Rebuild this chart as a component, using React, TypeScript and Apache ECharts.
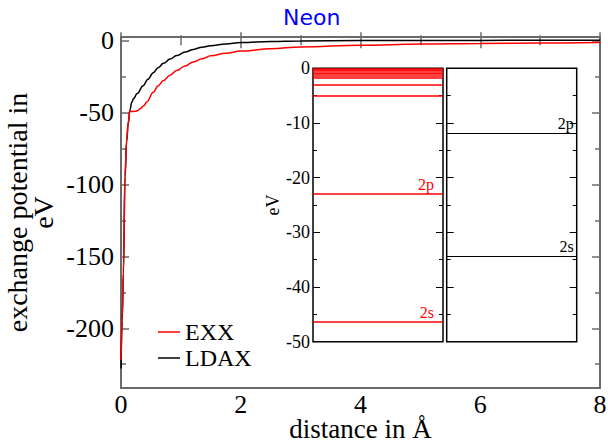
import React, { useEffect, useRef } from "react";
import * as echarts from "echarts";

// Main curves: [distance (Å), exchange potential (eV)]
const exxCurve: [number, number][] = [
  [0, -222], [0.02, -192], [0.04, -160], [0.067, -93], [0.095, -69], [0.12, -57],
  [0.15, -49], [0.19, -49.5], [0.23, -49.3], [0.28, -48.8], [0.32, -47.5],
  [0.38, -45.5], [0.43, -42.8], [0.54, -36], [0.62, -31.5], [0.71, -28], [0.82, -24.2],
  [0.93, -21], [1.07, -17.8], [1.21, -15], [1.35, -12.8], [1.5, -10.8], [1.75, -9],
  [2, -7.5], [2.5, -5.8], [3, -4.6], [4, -3.4], [5, -2.6], [6, -2.2], [7, -1.9], [8, -1.6],
];
const ldaxCurve: [number, number][] = [
  [0, -228], [0.02, -195], [0.04, -162], [0.067, -95], [0.095, -70], [0.12, -58],
  [0.15, -48], [0.18, -43], [0.21, -40.5], [0.27, -37], [0.37, -31.5], [0.45, -27],
  [0.54, -22.5], [0.62, -19], [0.71, -16], [0.82, -13], [0.93, -10.6], [1.07, -8.2],
  [1.21, -6.3], [1.35, -4.8], [1.5, -3.7], [1.75, -2.5], [2, -1.6], [2.5, -0.9],
  [3, -0.5], [4, -0.2], [5, -0.1], [6, -0.05], [7, -0.02], [8, -0.01],
];

// Inset energy levels (eV)
const exxLevels = [-46.4, -23.0, -5.08, -2.95, -1.8, -1.3, -1.0, -0.75, -0.5, -0.3, -0.12];
const exxLevelNames = ["2s", "2p", "", "", "", "", "", "", "", "", ""];
const ldaxLevels = [-34.4, -11.9];
const ldaxLevelNames = ["2s", "2p"];

const mainYLabels = [-200, -150, -100, -50, 0];
const mainYMinor = [-225, -175, -125, -75, -25];

const SERIF = "Liberation Serif";
const GRAY = "#6a6a6a";

export default function App() {
  const ref = useRef<HTMLDivElement>(null);
  useEffect(() => {
    const chart = echarts.init(ref.current!, null, { renderer: "svg" });
    const yMin = -241.5;
    const yMax = 2.3;
    const mainTickY = (pos: "left" | "right", values: number[], len: number, labels: boolean) => ({
      type: "value",
      gridIndex: 0,
      position: pos,
      min: yMin,
      max: yMax,
      axisLine: { show: false },
      splitLine: { show: false },
      axisTick: { show: true, inside: true, length: len, customValues: values, lineStyle: { color: GRAY, width: 1.5 } },
      axisLabel: labels
        ? { show: true, customValues: values, fontFamily: SERIF, fontSize: 26, color: "#000", margin: 7 }
        : { show: false },
    });
    const insetY = (grid: number, pos: "left" | "right", labels: boolean, name?: string) => ({
      type: "value",
      gridIndex: grid,
      position: pos,
      min: -50,
      max: 0,
      interval: 10,
      name: name,
      nameLocation: "middle",
      nameGap: 31,
      nameTextStyle: { fontFamily: SERIF, fontSize: 18, color: "#000" },
      axisLine: { show: false },
      splitLine: { show: false },
      axisTick: { show: true, inside: true, length: 7, lineStyle: { color: "#000", width: 1 } },
      minorTick: { show: true, splitNumber: 2, length: 4, lineStyle: { color: "#000", width: 1 } },
      axisLabel: labels
        ? { show: true, fontFamily: SERIF, fontSize: 18, color: "#000", margin: 3 }
        : { show: false },
    });
    const levelLines = (vals: number[], names: string[], color: string, pad: number) =>
      vals.map((v, i) => ({
        yAxis: v,
        name: names[i],
        label: names[i]
          ? {
              show: true,
              formatter: "{b}",
              position: "insideEndTop",
              distance: 2,
              padding: [0, pad, 0, 0],
              fontFamily: SERIF,
              fontSize: 16,
              color: color,
            }
          : { show: false },
      }));

    chart.setOption({
      animation: false,
      title: {
        text: "Neon",
        left: 283,
        top: 6,
        padding: 0,
        textStyle: { fontFamily: "DejaVu Sans", fontSize: 22, fontWeight: "normal", color: "#0000ff" },
      },
      legend: {
        data: ["EXX", "LDAX"],
        orient: "vertical",
        left: 153,
        top: 315,
        itemWidth: 22,
        itemHeight: 1.5,
        itemGap: 2,
        icon: "rect",
        textStyle: { fontFamily: SERIF, fontSize: 24, color: "#000", lineHeight: 20 },
      },
      grid: [
        { left: 121, top: 37, width: 479, height: 351, outerBoundsMode: "none", containLabel: false, show: true, borderColor: GRAY, borderWidth: 2, backgroundColor: "transparent" },
        { left: 313, top: 68.3, width: 130, height: 273.4, outerBoundsMode: "none", containLabel: false, show: true, borderColor: "#000", borderWidth: 1.5, backgroundColor: "#fff" },
        { left: 446.7, top: 68.3, width: 130, height: 273.4, outerBoundsMode: "none", containLabel: false, show: true, borderColor: "#000", borderWidth: 1.5, backgroundColor: "#fff" },
      ],
      xAxis: [
        {
          type: "value", gridIndex: 0, position: "bottom", min: 0, max: 8, interval: 2,
          name: "distance in Å", nameLocation: "middle", nameGap: 29, nameMoveOverlap: false,
          nameTextStyle: { fontFamily: SERIF, fontSize: 27, color: "#000", lineHeight: 24 },
          axisLine: { show: false }, splitLine: { show: false },
          axisTick: { show: true, inside: true, length: 8, lineStyle: { color: GRAY, width: 1.5 } },
          minorTick: { show: true, splitNumber: 2, length: 5, lineStyle: { color: GRAY, width: 1.5 } },
          axisLabel: { fontFamily: SERIF, fontSize: 26, color: "#000", margin: 5, lineHeight: 22 },
        },
        {
          type: "value", gridIndex: 0, position: "top", min: 0, max: 8, interval: 2,
          axisLine: { show: false }, splitLine: { show: false },
          axisTick: { show: true, inside: true, length: 8, lineStyle: { color: GRAY, width: 1.5 } },
          minorTick: { show: true, splitNumber: 2, length: 5, lineStyle: { color: GRAY, width: 1.5 } },
          axisLabel: { show: false },
        },
        { type: "value", gridIndex: 1, min: 0, max: 1, show: false },
        { type: "value", gridIndex: 2, min: 0, max: 1, show: false },
      ],
      yAxis: [
        {
          ...mainTickY("left", mainYLabels, 8, true),
          name: "exchange potential in\neV",
          nameLocation: "middle",
          nameGap: 65,
          nameMoveOverlap: false,
          nameTextStyle: { fontFamily: SERIF, fontSize: 28, color: "#000", lineHeight: 26 },
        },
        mainTickY("left", mainYMinor, 5, false),
        mainTickY("right", mainYLabels, 8, false),
        mainTickY("right", mainYMinor, 5, false),
        insetY(1, "left", true, "eV"),
        insetY(1, "right", false),
        insetY(2, "left", false),
        insetY(2, "right", false),
      ],
      series: [
        {
          name: "EXX", type: "line", xAxisIndex: 0, yAxisIndex: 0, data: exxCurve,
          showSymbol: false, smooth: 0.4, smoothMonotone: "x", color: "#ff0000",
          lineStyle: { color: "#ff0000", width: 1.5 }, z: 3,
        },
        {
          name: "LDAX", type: "line", xAxisIndex: 0, yAxisIndex: 0, data: ldaxCurve,
          showSymbol: false, smooth: 0.4, smoothMonotone: "x", color: "#000",
          lineStyle: { color: "#000", width: 1.5 }, z: 2,
        },
        {
          name: "EXX levels", type: "line", xAxisIndex: 2, yAxisIndex: 4, data: [],
          markLine: {
            silent: true, symbol: ["none", "none"],
            lineStyle: { color: "#ff0000", width: 1.5, type: "solid" },
            data: levelLines(exxLevels, exxLevelNames, "#ff0000", 7),
          },
        },
        {
          name: "LDAX levels", type: "line", xAxisIndex: 3, yAxisIndex: 6, data: [],
          markLine: {
            silent: true, symbol: ["none", "none"],
            lineStyle: { color: "#000", width: 1.2, type: "solid" },
            data: levelLines(ldaxLevels, ldaxLevelNames, "#000", 1),
          },
        },
      ],
    });
    return () => chart.dispose();
  }, []);
  return (
    <div
      ref={ref}
      style={{ position: "fixed", left: 0, top: 0, width: 608, height: 445, background: "#fff" }}
    />
  );
}
